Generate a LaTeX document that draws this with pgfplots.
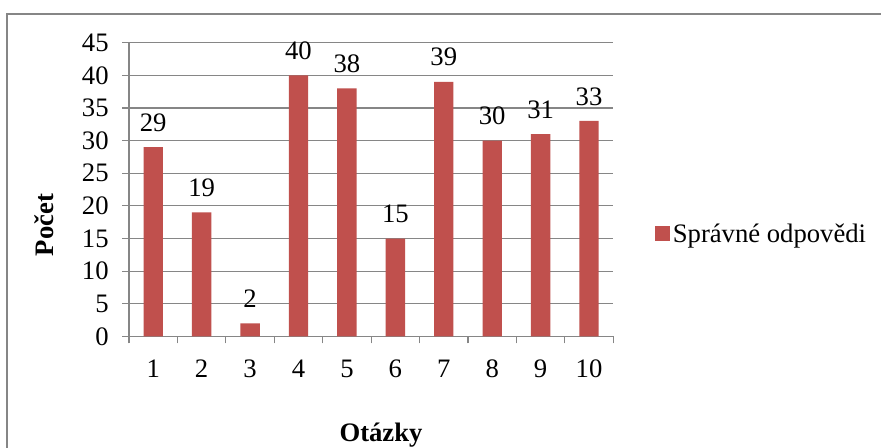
\documentclass[border=0pt]{standalone}
\usepackage{pgfplots}
\pgfplotsset{compat=1.18}
\usepackage{fontspec}
\setmainfont{Liberation Serif}
\definecolor{barred}{HTML}{C0504D}
\definecolor{gridgray}{HTML}{868686}
\newcommand{\chartfont}{\fontsize{20}{24}\selectfont}
\begin{document}
\begin{tikzpicture}[x=0.75pt,y=0.75pt]
\path[use as bounding box] (0,0) rectangle (881,448);
\fill[white] (0,0) rectangle (881,448);
\draw[gridgray,line width=1.5pt] (7,0) -- (7,434) -- (882,434);
\begin{axis}[
  at={(96.75pt,83.625pt)}, anchor=south west,
  scale only axis, width=363.2pt, height=220.4pt,
  xmin=0.5, xmax=10.5, ymin=0, ymax=45,
  axis x line*=bottom, axis y line*=left,
  axis line style={-,draw=gridgray,line width=0.9pt},
  ytick={0,5,...,45},
  xtick={1,...,10},
  minor xtick={0.5,1.5,...,10.5},
  tick align=outside,
  major x tick style={draw=none},
  minor x tick style={draw=gridgray,line width=0.9pt},
  major y tick style={draw=gridgray,line width=0.9pt},
  major tick length=5.25pt, minor tick length=5.25pt,
  ymajorgrids, grid style={draw=gridgray,line width=0.9pt},
  /pgf/number format/assume math mode=true,
  ticklabel style={font=\chartfont},
  xticklabel style={yshift=-9pt},
  yticklabel style={xshift=-6.5pt},
  ybar, bar width=0.4,
  nodes near coords,
  every node near coord/.append style={font=\chartfont,anchor=south,inner sep=0pt,yshift=11.5pt},
  legend style={draw=none, fill=none, at={(1.086,0.349)}, anchor=west, inner sep=0pt,
     font=\chartfont, legend cell align=left,
     /tikz/every even column/.append style={column sep=0pt}},
  legend image code/.code={\fill[barred] (0pt,-5.6pt) rectangle (11.25pt,5.6pt);},
  clip=false,
]
\addplot[fill=barred, draw=none] coordinates {
(1,29) (2,19) (3,2) (4,40) (5,38) (6,15) (7,39) (8,30) (9,31) (10,33)};
\addlegendentry{Správné odpovědi}
\end{axis}
\node[font=\chartfont\bfseries, rotate=90] at (44,223) {Počet};
\node[font=\chartfont\bfseries] at (381,13) {Otázky};
\end{tikzpicture}
\end{document}
